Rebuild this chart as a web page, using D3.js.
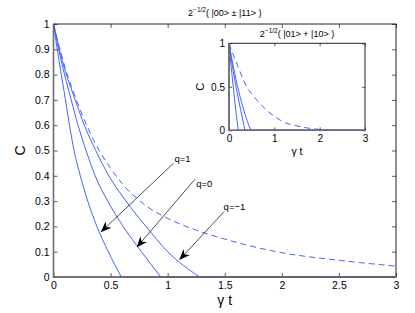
<!DOCTYPE html>
<html>
<head>
<meta charset="utf-8">
<script src="https://cdn.jsdelivr.net/npm/d3@7"></script>
<style>
  body { margin: 0; background: #fff; }
  text { font-family: "Liberation Sans", Arial, sans-serif; fill: #000; }
</style>
</head>
<body>
<svg id="chart"></svg>
<script>
// main panel: [t, C] pairs
const mainQ1  = [[0,1],[0.05,0.85],[0.105,0.7],[0.14,0.6],[0.18,0.5],[0.235,0.4],[0.30,0.3],[0.38,0.2],[0.48,0.1],[0.594,0]];
const mainQ0  = [[0,1],[0.07,0.85],[0.155,0.7],[0.215,0.6],[0.285,0.5],[0.365,0.4],[0.475,0.3],[0.61,0.2],[0.77,0.1],[0.94,0]];
const mainQm1 = [[0,1],[0.08,0.85],[0.19,0.7],[0.27,0.6],[0.37,0.5],[0.485,0.4],[0.635,0.3],[0.81,0.2],[1.0,0.1],[1.28,0]];
const mainDash = [[0,1],[0.1,0.83],[0.2,0.7],[0.3,0.59],[0.4,0.5],[0.5,0.43],[0.6,0.37],[0.8,0.285],[1.0,0.232],
                  [1.25,0.185],[1.5,0.15],[1.75,0.12],[2.0,0.096],[2.5,0.066],[3.0,0.043]];

// inset panel
const insetQ1  = [[0,1],[0.05,0.72],[0.1,0.47],[0.15,0.23],[0.205,0]];
const insetQ0  = [[0,1],[0.1,0.66],[0.2,0.38],[0.3,0.13],[0.35,0]];
const insetQm1 = [[0,1],[0.1,0.72],[0.2,0.48],[0.3,0.28],[0.4,0.11],[0.485,0]];
const insetDash = [[0,1],[0.1,0.86],[0.2,0.73],[0.3,0.6],[0.4,0.49],[0.5,0.42],[0.75,0.27],[1.0,0.16],
                   [1.25,0.085],[1.5,0.05],[1.75,0.025],[2.0,0.01],[2.5,0],[3,0]];

// annotations: label, label anchor [t, C], arrow start [t, C], arrow tip [t, C]
const notes = [
  ["q=1",  [1.06, 0.455], [1.05, 0.449], [0.42, 0.18]],
  ["q=0",  [1.25, 0.356], [1.239, 0.386], [0.734, 0.12]],
  ["q=\u22121", [1.49, 0.266], [1.493, 0.258], [1.108, 0.07]]
];

const mainXTicks = [0, 0.5, 1, 1.5, 2, 2.5, 3];
const mainYTicks = [0, 0.1, 0.2, 0.3, 0.4, 0.5, 0.6, 0.7, 0.8, 0.9, 1];
const insetXTicks = [0, 1, 2, 3];
const insetYTicks = [0, 0.5, 1];

const W = 415, H = 313;
const blue = "#4463ff";

const svg = d3.select("#chart").attr("width", W).attr("height", H);

svg.append("defs").append("marker")
  .attr("id", "head")
  .attr("viewBox", "0 0 10 10")
  .attr("refX", 9).attr("refY", 5)
  .attr("markerWidth", 11).attr("markerHeight", 11)
  .attr("markerUnits", "userSpaceOnUse")
  .attr("orient", "auto")
  .append("path")
  .attr("d", "M0,1 L10,5 L0,9 L3,5 Z")
  .attr("fill", "#000");

function panel(box, xTicks, yTicks, xFmt, yFmt, fs) {
  const x = d3.scaleLinear().domain([0, 3]).range([box.left, box.right]);
  const y = d3.scaleLinear().domain([0, 1]).range([box.bottom, box.top]);
  const g = svg.append("g");
  g.append("rect")
    .attr("x", box.left).attr("y", box.top)
    .attr("width", box.right - box.left).attr("height", box.bottom - box.top)
    .attr("fill", "#fff");
  return { x, y, g, box, xTicks, yTicks, xFmt, yFmt, fs };
}

function drawCurves(p, solids, dash) {
  const line = d3.line().x(d => p.x(d[0])).y(d => p.y(d[1])).curve(d3.curveMonotoneX);
  const flat = d3.line().x(d => p.x(d[0])).y(d => p.y(d[1]));
  solids.forEach(s => {
    p.g.append("path").attr("d", line(s))
      .attr("fill", "none").attr("stroke", blue).attr("stroke-width", 1);
    p.g.append("path").attr("d", flat([s[s.length - 1], [3, 0]]))
      .attr("fill", "none").attr("stroke", blue).attr("stroke-width", 1);
  });
  p.g.append("path").attr("d", line(dash))
    .attr("fill", "none").attr("stroke", blue).attr("stroke-width", 1)
    .attr("stroke-dasharray", "6,4");
}

function drawAxes(p, tick) {
  const g = p.g, b = p.box;
  // inward ticks on all four sides
  const axB = d3.axisBottom(p.x).tickValues(p.xTicks).tickSize(-tick).tickPadding(4).tickFormat(p.xFmt);
  const axT = d3.axisTop(p.x).tickValues(p.xTicks).tickSize(-tick).tickFormat("");
  const axL = d3.axisLeft(p.y).tickValues(p.yTicks).tickSize(-tick).tickPadding(4).tickFormat(p.yFmt);
  const axR = d3.axisRight(p.y).tickValues(p.yTicks).tickSize(-tick).tickFormat("");
  const gb = g.append("g").attr("transform", `translate(0,${b.bottom})`).call(axB);
  const gt = g.append("g").attr("transform", `translate(0,${b.top})`).call(axT);
  const gl = g.append("g").attr("transform", `translate(${b.left},0)`).call(axL);
  const gr = g.append("g").attr("transform", `translate(${b.right},0)`).call(axR);
  [gb, gt, gl, gr].forEach(a => {
    a.select(".domain").remove();
    a.selectAll(".tick line").attr("stroke", "#333").attr("stroke-width", 0.8);
    a.selectAll("text").style("font-size", p.fs + "px")
      .style("font-family", "'Liberation Sans', Arial, sans-serif").attr("fill", "#000");
  });
  gb.selectAll("text").attr("dy", "0.75em");
  g.append("rect")
    .attr("x", b.left).attr("y", b.top)
    .attr("width", b.right - b.left).attr("height", b.bottom - b.top)
    .attr("fill", "none").attr("stroke", "#222").attr("stroke-width", 1);
  g.append("path")
    .attr("d", `M${b.left},${b.top}V${b.bottom}H${b.right}`)
    .attr("fill", "none").attr("stroke", "#6e6e6e").attr("stroke-width", 1.6);
}

function title(p, y, main, sup, rest, fs) {
  const t = p.g.append("text")
    .attr("x", (p.box.left + p.box.right) / 2).attr("y", y)
    .attr("text-anchor", "middle").style("font-size", fs + "px");
  t.append("tspan").text(main);
  t.append("tspan").attr("dy", -4).style("font-size", (fs - 2.5) + "px").text(sup);
  t.append("tspan").attr("dy", 4).text(rest);
}

const fmt = d => d3.format("")(d);

// ---------- main panel ----------
const M = panel({ left: 53.5, right: 396, top: 24, bottom: 277 }, mainXTicks, mainYTicks, fmt, fmt, 10.5);
drawCurves(M, [mainQ1, mainQ0, mainQm1], mainDash);

notes.forEach(n => {
  M.g.append("line")
    .attr("x1", M.x(n[2][0])).attr("y1", M.y(n[2][1]))
    .attr("x2", M.x(n[3][0])).attr("y2", M.y(n[3][1]))
    .attr("stroke", "#222").attr("stroke-width", 0.8)
    .attr("marker-end", "url(#head)");
  M.g.append("text")
    .attr("x", M.x(n[1][0])).attr("y", M.y(n[1][1]))
    .style("font-size", "9.5px").text(n[0]);
});

drawAxes(M, 4);
title(M, 15.5, "2", "\u22121/2", "( |00> \u00b1 |11> )", 9);

M.g.append("text")
  .attr("x", (M.box.left + M.box.right) / 2).attr("y", 305)
  .attr("text-anchor", "middle").style("font-size", "14px").text("\u03b3 t");
M.g.append("text")
  .attr("transform", `translate(25,${(M.box.top + M.box.bottom) / 2}) rotate(-90)`)
  .attr("text-anchor", "middle").style("font-size", "14px").text("C");

// ---------- inset panel ----------
const I = panel({ left: 229, right: 365, top: 43.3, bottom: 130.3 }, insetXTicks, insetYTicks, fmt, fmt, 10);
drawCurves(I, [insetQ1, insetQ0, insetQm1], insetDash);
drawAxes(I, 3);
title(I, 37, "2", "\u22121/2", "( |01> + |10> )", 9);

I.g.append("text")
  .attr("x", (I.box.left + I.box.right) / 2).attr("y", 154.5)
  .attr("text-anchor", "middle").style("font-size", "10.5px").text("\u03b3 t");
I.g.append("text")
  .attr("transform", `translate(204,${(I.box.top + I.box.bottom) / 2}) rotate(-90)`)
  .attr("text-anchor", "middle").style("font-size", "11px").text("C");
</script>
</body>
</html>
